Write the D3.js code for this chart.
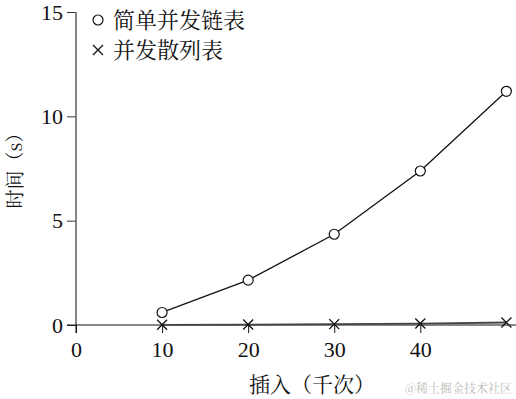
<!DOCTYPE html>
<html>
<head>
<meta charset="utf-8">
<script src="https://cdn.jsdelivr.net/npm/d3@7"></script>
<style>
  body { margin: 0; background: #fff; }
  svg { display: block; }
</style>
</head>
<body>
<svg id="chart" width="516" height="399"></svg>
<script>
// data
const inserts = [10, 20, 30, 40, 50]          // 千次
const linkedList = [0.6, 2.15, 4.35, 7.38, 11.2]
const hashTable = [0.01, 0.02, 0.04, 0.07, 0.12]
const xTicks = [0, 10, 20, 30, 40]
const yTicks = [0, 5, 10, 15]

const svg = d3.select('#chart')

const x = d3.scaleLinear().domain([0, 51]).range([76, 515])
const y = d3.scaleLinear().domain([0, 15]).range([325, 12])

const cjk = '"Noto Serif CJK SC", "Noto Sans CJK SC", serif'
const serif = '"Liberation Serif", "DejaVu Serif", serif'

// y axis
const yAxis = svg.append('g')
  .attr('transform', 'translate(76,0)')
  .call(d3.axisLeft(y).tickValues(yTicks).tickSize(9).tickPadding(4).tickSizeOuter(0))
yAxis.select('.domain').remove()
yAxis.selectAll('line').attr('stroke', '#333')
yAxis.selectAll('text')
  .style('font-family', serif).style('font-size', '22px').attr('fill', '#111')
svg.append('line')
  .attr('x1', 76).attr('x2', 76)
  .attr('y1', y(15)).attr('y2', 333)
  .attr('stroke', '#666').attr('stroke-width', 1.6)

// x axis
const xAxis = svg.append('g')
  .attr('transform', `translate(0,${y(0)})`)
  .call(d3.axisBottom(x).tickValues(xTicks).tickSize(8).tickPadding(5).tickSizeOuter(0))
xAxis.select('.domain').remove()
xAxis.selectAll('line').attr('stroke', '#111')
xAxis.selectAll('text')
  .attr('dy', '0.85em')
  .style('font-family', serif).style('font-size', '22px').attr('fill', '#111')
svg.append('line')
  .attr('x1', 67).attr('x2', 516)
  .attr('y1', y(0)).attr('y2', y(0))
  .attr('stroke', '#111').attr('stroke-width', 1.1)

// series lines
const line = d3.line().x((d, i) => x(inserts[i])).y(d => y(d))

svg.append('path')
  .datum(linkedList)
  .attr('d', line)
  .attr('fill', 'none')
  .attr('stroke', '#111')
  .attr('stroke-width', 1.3)

svg.append('path')
  .datum(hashTable)
  .attr('d', line)
  .attr('fill', 'none')
  .attr('stroke', '#444')
  .attr('stroke-width', 1.8)

// markers
svg.append('g')
  .selectAll('circle')
  .data(linkedList)
  .enter()
  .append('circle')
  .attr('cx', (d, i) => x(inserts[i]))
  .attr('cy', d => y(d))
  .attr('r', 5)
  .attr('fill', '#fff')
  .attr('stroke', '#111')
  .attr('stroke-width', 1.2)

const crossPath = 'M-5,-5L5,5M-5,5L5,-5'
svg.append('g')
  .selectAll('path')
  .data(hashTable)
  .enter()
  .append('path')
  .attr('transform', (d, i) => `translate(${x(inserts[i])},${y(d)})`)
  .attr('d', crossPath)
  .attr('stroke', '#111')
  .attr('stroke-width', 1.3)

// legend
const legend = svg.append('g')
legend.append('circle')
  .attr('cx', 98).attr('cy', 20).attr('r', 5)
  .attr('fill', '#fff').attr('stroke', '#111').attr('stroke-width', 1.2)
legend.append('text')
  .attr('x', 113).attr('y', 28)
  .style('font-family', cjk).style('font-size', '22px').attr('fill', '#111')
  .text('简单并发链表')
legend.append('path')
  .attr('transform', 'translate(98,50)')
  .attr('d', crossPath)
  .attr('stroke', '#111').attr('stroke-width', 1.3)
legend.append('text')
  .attr('x', 113).attr('y', 58)
  .style('font-family', cjk).style('font-size', '22px').attr('fill', '#111')
  .text('并发散列表')

// axis titles
svg.append('text')
  .attr('x', 312).attr('y', 392)
  .attr('text-anchor', 'middle')
  .style('font-family', cjk).style('font-size', '21px').attr('fill', '#111')
  .text('插入（千次）')

svg.append('text')
  .attr('transform', 'translate(22,166) rotate(-90)')
  .attr('text-anchor', 'middle')
  .style('font-family', cjk).style('font-size', '19px').attr('fill', '#111')
  .text('时间（s）')

// watermark
svg.append('text')
  .attr('x', 512).attr('y', 393)
  .attr('text-anchor', 'end')
  .style('font-family', cjk).style('font-size', '12px').attr('fill', '#bbb')
  .text('@稀土掘金技术社区')
</script>
</body>
</html>
